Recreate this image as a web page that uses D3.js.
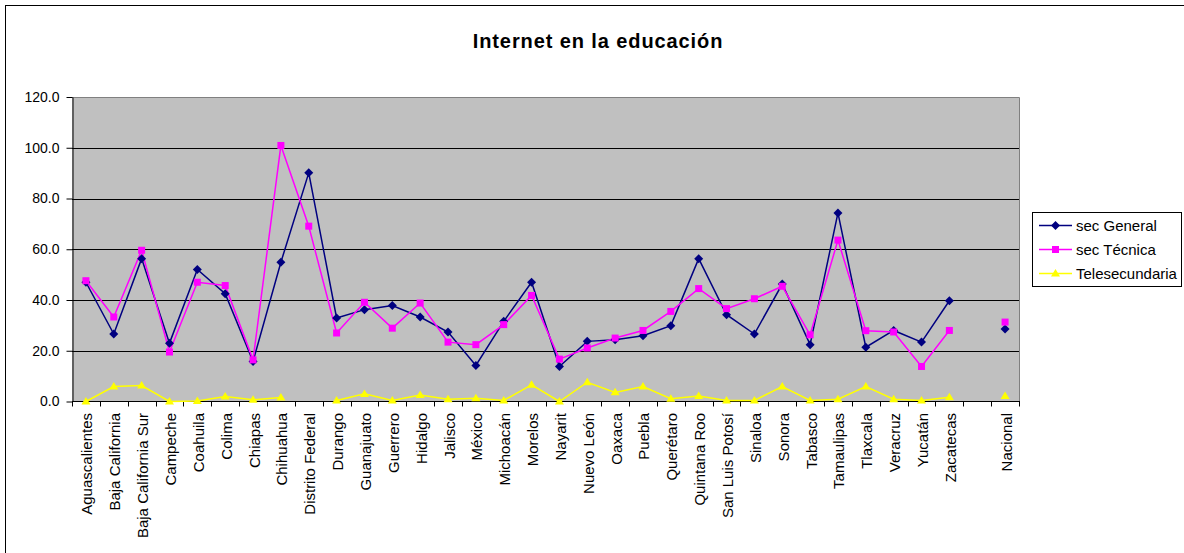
<!DOCTYPE html>
<html><head><meta charset="utf-8">
<script src="https://cdn.jsdelivr.net/npm/d3@7"></script>
<style>body{margin:0;background:#fff}svg{display:block}text{font-family:"Liberation Sans",Arial,sans-serif}</style>
</head><body>
<svg id="c" width="1184" height="553"></svg>
<script>
const categories = ["Aguascalientes","Baja California","Baja California Sur","Campeche","Coahuila","Colima","Chiapas","Chihuahua","Distrito Federal","Durango","Guanajuato","Guerrero","Hidalgo","Jalisco","México","Michoacán","Morelos","Nayarit","Nuevo León","Oaxaca","Puebla","Querétaro","Quintana Roo","San Luis Potosí","Sinaloa","Sonora","Tabasco","Tamaulipas","Tlaxcala","Veracruz","Yucatán","Zacatecas","","Nacional"];
const secGeneral = [47.0,26.6,56.3,23.0,52.0,42.5,15.8,54.9,90.1,32.9,36.2,37.8,33.3,27.4,14.2,31.6,47.0,13.8,23.7,24.3,25.9,29.9,56.3,34.2,26.6,46.3,22.4,74.3,21.4,28.0,23.4,39.7,null,28.6];
const secTecnica = [47.6,33.3,59.6,19.5,47.0,45.7,16.4,100.9,69.1,27.0,39.1,28.9,38.8,23.4,22.4,30.3,41.8,16.7,21.1,25.0,28.0,35.5,44.5,36.6,40.5,45.4,26.3,63.6,27.9,27.4,13.8,28.0,null,31.3];
const telesecundaria = [0.0,5.9,6.3,0.0,0.2,2.0,0.7,1.6,null,0.4,3.0,0.4,2.6,0.9,1.3,0.4,6.6,0.0,7.6,3.6,5.9,1.1,2.2,0.4,0.4,5.9,0.4,0.9,5.9,0.9,0.4,1.7,null,2.2];
const yTicks = [0,20,40,60,80,100,120];
const seriesNames = ["sec General","sec Técnica","Telesecundaria"];

const svg = d3.select("#c");
svg.append("rect").attr("x",5.5).attr("y",5.5).attr("width",1300).attr("height",700).attr("fill","none").attr("stroke","#000");

const L=72, R=1019, T=97, B=401.5;
const x = d3.scaleBand().domain(d3.range(categories.length)).range([L,R]);
const y = d3.scaleLinear().domain([0,120]).range([B,T]);

svg.append("text").attr("x",598).attr("y",48).attr("text-anchor","middle")
  .attr("font-size",20).attr("font-weight","bold").style("letter-spacing","0.9px").text("Internet en la educación");

svg.append("rect").attr("x",L).attr("y",T).attr("width",R-L).attr("height",B-T).attr("fill","#C0C0C0");
// gridlines
svg.append("g").selectAll("line").data(yTicks.filter(d=>d>0&&d<120)).join("line")
  .attr("x1",L).attr("x2",R).attr("y1",d=>Math.round(y(d))+0.5).attr("y2",d=>Math.round(y(d))+0.5)
  .attr("stroke","#000").attr("stroke-width",1);
// plot border top/right gray
svg.append("path").attr("d",`M${L},${T+0.5}H${R+0.5}V${B}`).attr("fill","none").attr("stroke","#808080");

// y axis
const ya = svg.append("g").attr("transform",`translate(${L+0.5},0)`)
  .call(d3.axisLeft(y).tickValues(yTicks).tickFormat(d3.format(".1f")).tickSize(6).tickSizeOuter(0));
ya.select(".domain").attr("stroke","#000");
ya.selectAll("text").attr("font-size",14).attr("font-family","Liberation Sans, Arial").attr("fill","#000").attr("x",-13);

// x axis line + ticks at band boundaries
svg.append("line").attr("x1",L).attr("x2",R+1).attr("y1",B).attr("y2",B).attr("stroke","#000");
const bounds = d3.range(categories.length+1).map(i=> i<categories.length ? x(i) : R);
svg.append("g").selectAll("line").data(bounds).join("line")
  .attr("x1",d=>Math.round(d)+0.5).attr("x2",d=>Math.round(d)+0.5).attr("y1",B).attr("y2",B+5).attr("stroke","#000");
svg.append("g").selectAll("text").data(categories).join("text")
  .attr("transform",(d,i)=>`translate(${x(i)+x.bandwidth()/2+1},413) rotate(-90)`)
  .attr("text-anchor","end").attr("dominant-baseline","central").attr("font-size",15).text(d=>d);

const colors = ["#000080","#FF00FF","#FFFF00"];
const data = [secGeneral,secTecnica,telesecundaria];
const cx = i=> x(i)+x.bandwidth()/2;
const line = d3.line().defined(d=>d!=null).x((d,i)=>cx(i)).y(d=>y(d));
data.forEach((s,k)=>{
  svg.append("path").datum(s).attr("d",line).attr("fill","none").attr("stroke",colors[k]).attr("stroke-width",1.5);
});
const symbols = [d3.symbolDiamond2, d3.symbolSquare2, d3.symbolTriangle2];
function marker(g,k){
  if(k===0) return g.append("path").attr("d","M0,-4.5L4.5,0L0,4.5L-4.5,0Z").attr("fill",colors[0]);
  if(k===1) return g.append("rect").attr("x",-3.5).attr("y",-3.5).attr("width",7).attr("height",7).attr("fill",colors[1]);
  return g.append("path").attr("d","M0,-4.5L4.5,3L-4.5,3Z").attr("fill",colors[2]);
}
data.forEach((s,k)=>{
  s.forEach((v,i)=>{ if(v==null) return;
    const g = svg.append("g").attr("transform",`translate(${cx(i)},${y(v)})`);
    marker(g,k);
  });
});

// legend
const lg = svg.append("g");
lg.append("rect").attr("x",1032.5).attr("y",212.5).attr("width",149).attr("height",74).attr("fill","#fff").attr("stroke","#000");
const rows=[225.5,249.5,273.5];
seriesNames.forEach((n,k)=>{
  lg.append("line").attr("x1",1039).attr("x2",1072).attr("y1",rows[k]).attr("y2",rows[k]).attr("stroke",colors[k]).attr("stroke-width",1.5);
  const g = lg.append("g").attr("transform",`translate(1055.5,${rows[k]})`);
  marker(g,k);
  lg.append("text").attr("x",1076).attr("y",rows[k]).attr("dominant-baseline","central").attr("font-size",15).text(n);
});
</script>
</body></html>
